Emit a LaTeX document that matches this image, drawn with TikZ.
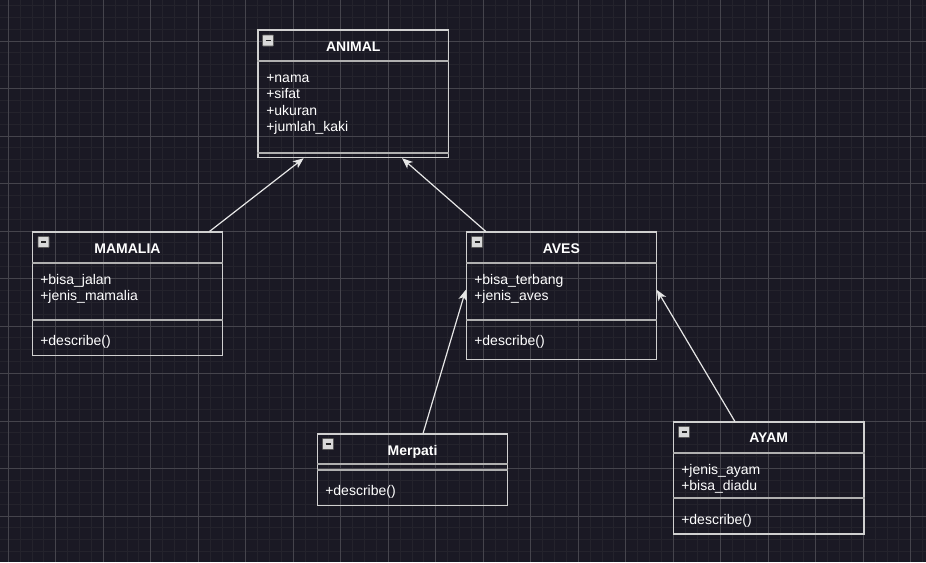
\documentclass[tikz,border=0pt]{standalone}
\usepackage{fontspec}
\setmainfont{Liberation Sans}
\usetikzlibrary{arrows.meta,fit,calc}
\definecolor{bgc}{HTML}{1A1924}
\definecolor{minorc}{HTML}{24232C}
\definecolor{majorc}{HTML}{45444C}
\definecolor{borderc}{HTML}{D0D0D0}
\definecolor{sepc}{HTML}{B0B0B0}
\definecolor{arrowc}{HTML}{E6E6E6}
\tikzset{
  umlbox/.style={draw=borderc, line width=0.8pt, inner sep=0pt, fill=none},
  sepline/.style={draw=sepc, line width=1.3pt},
  attr/.style={anchor=base west, inner sep=0pt, text=white, font=\fontsize{10.5}{12.5}\selectfont},
  title/.style={anchor=base, inner sep=0pt, text=white, font=\fontsize{10.5}{12.5}\selectfont\bfseries},
  icon/.style={draw=gray!70!black, fill=gray!30!white, line width=0.6pt, rounded corners=0.5pt},
  inh/.style={draw=arrowc, line width=0.9pt, -{Stealth[length=8pt,width=6.5pt,inset=2.2pt]}},
}
\newcommand{\umlicon}[2]{%
  \filldraw[icon] (#1+0.5,#2) rectangle (#1+11.5,#2+11);
  \draw[black!85, line width=1.4pt] (#1+3.5,#2+5.5) -- (#1+8.5,#2+5.5);
}
\begin{document}
\begin{tikzpicture}[x=0.75pt,y=-0.75pt]
\useasboundingbox (0,0) rectangle (926,562);
\fill[bgc] (0,0) rectangle (926,562);
% grid
\foreach \i in {-1,...,78}{
  \pgfmathsetmacro\xx{8.3+11.875*\i}
  \draw[minorc, line width=0.75pt] (\xx,0) -- (\xx,562);
}
\foreach \i in {-4,...,48}{
  \pgfmathsetmacro\yy{41+11.875*\i}
  \draw[minorc, line width=0.75pt] (0,\yy) -- (926,\yy);
}
\foreach \i in {-1,...,20}{
  \pgfmathsetmacro\xx{8.3+47.5*\i}
  \draw[majorc, line width=0.75pt] (\xx,0) -- (\xx,562);
}
\foreach \i in {-1,...,12}{
  \pgfmathsetmacro\yy{41+47.5*\i}
  \draw[majorc, line width=0.75pt] (0,\yy) -- (926,\yy);
}

% ANIMAL
\node[umlbox, fit={(258,30) (448.5,157.7)}] (animal) {};
\draw[sepline] (animal.west |- 0,61) -- (animal.east |- 0,61);
\draw[sepline] (animal.west |- 0,153) -- (animal.east |- 0,153);
\umlicon{262}{35}
\node[title] (animalT) at (353.3,51) {ANIMAL};
\node[attr] (animal1) at (266,82) {+nama};
\node[attr] (animal2) at (266,98.5) {+sifat};
\node[attr] (animal3) at (266,115) {+ukuran};
\node[attr] (animal4) at (266,131.5) {+jumlah\_kaki};

% MAMALIA
\node[umlbox, fit={(32.3,232) (222.7,355.7)}] (mamalia) {};
\draw[sepline] (mamalia.west |- 0,262.7) -- (mamalia.east |- 0,262.7);
\draw[sepline] (mamalia.west |- 0,319.7) -- (mamalia.east |- 0,319.7);
\umlicon{37.5}{236.5}
\node[title] (mamaliaT) at (127.5,253) {MAMALIA};
\node[attr] (mamalia1) at (40,284.3) {+bisa\_jalan};
\node[attr] (mamalia2) at (40,300.3) {+jenis\_mamalia};
\node[attr] (mamalia3) at (40,345) {+describe()};

% AVES
\node[umlbox, fit={(466.3,232) (656.3,359.7)}] (aves) {};
\draw[sepline] (aves.west |- 0,262.7) -- (aves.east |- 0,262.7);
\draw[sepline] (aves.west |- 0,319.7) -- (aves.east |- 0,319.7);
\umlicon{471}{236.5}
\node[title] (avesT) at (561.3,253) {AVES};
\node[attr] (aves1) at (474,284.3) {+bisa\_terbang};
\node[attr] (aves2) at (474,300.3) {+jenis\_aves};
\node[attr] (aves3) at (474,345) {+describe()};

% Merpati
\node[umlbox, fit={(317.3,434) (507.7,505.3)}] (merpati) {};
\draw[sepline] (merpati.west |- 0,464.3) -- (merpati.east |- 0,464.3);
\draw[sepline] (merpati.west |- 0,469.7) -- (merpati.east |- 0,469.7);
\umlicon{322}{438.5}
\node[title] (merpatiT) at (412.5,455) {Merpati};
\node[attr] (merpati1) at (325,495) {+describe()};

% AYAM
\node[umlbox, fit={(673.3,422) (864,534)}] (ayam) {};
\draw[sepline] (ayam.west |- 0,452.7) -- (ayam.east |- 0,452.7);
\draw[sepline] (ayam.west |- 0,498) -- (ayam.east |- 0,498);
\umlicon{678}{426.5}
\node[title] (ayamT) at (768.7,442.7) {AYAM};
\node[attr] (ayam1) at (681,474.3) {+jenis\_ayam};
\node[attr] (ayam2) at (681,490) {+bisa\_diadu};
\node[attr] (ayam3) at (681,524) {+describe()};

% connectors
\draw[inh] ($(mamalia.north west)!0.928!(mamalia.north east)$) -- ($(animal.south west)!0.241!(animal.south east)$);
\draw[inh] ($(aves.north west)!0.105!(aves.north east)$) -- ($(animal.south west)!0.755!(animal.south east)$);
\draw[inh] ($(merpati.north west)!0.555!(merpati.north east)$) -- ($(aves.north west)!0.453!(aves.south west)$);
\draw[inh] ($(ayam.north west)!0.324!(ayam.north east)$) -- ($(aves.north east)!0.453!(aves.south east)$);
\end{tikzpicture}
\end{document}
